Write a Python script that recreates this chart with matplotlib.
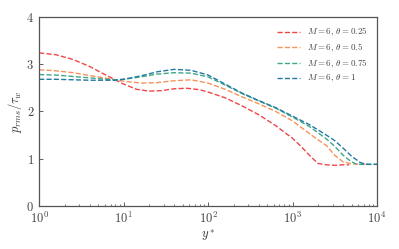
import numpy as np
import matplotlib
matplotlib.use('Agg')
import matplotlib.pyplot as plt

plt.rcParams['font.family'] = 'serif'
plt.rcParams['font.serif'] = ['cmr10']
plt.rcParams['mathtext.fontset'] = 'cm'
plt.rcParams['axes.formatter.use_mathtext'] = True

# log10(y*) sample positions and p_rms/tau_w values
logy_025 = [0.0, 0.2, 0.4, 0.6, 0.8, 0.9, 1.0, 1.15, 1.3, 1.45, 1.6, 1.75, 1.9, 2.0, 2.2, 2.4, 2.6, 2.8, 3.0, 3.1, 3.2, 3.3, 3.4, 3.5, 3.6, 3.67]
prms_025 = [3.24, 3.2, 3.1, 2.95, 2.76, 2.67, 2.58, 2.47, 2.43, 2.44, 2.48, 2.49, 2.46, 2.41, 2.29, 2.12, 1.93, 1.7, 1.43, 1.26, 1.07, 0.9, 0.87, 0.86, 0.87, 0.87]

logy_05 = [0.0, 0.2, 0.4, 0.6, 0.8, 0.9, 1.0, 1.2, 1.4, 1.6, 1.8, 2.0, 2.2, 2.4, 2.6, 2.8, 3.0, 3.2, 3.3, 3.4, 3.5, 3.6, 3.7, 3.8, 3.9]
prms_05 = [2.88, 2.86, 2.82, 2.76, 2.7, 2.67, 2.64, 2.6, 2.61, 2.65, 2.67, 2.6, 2.47, 2.31, 2.16, 2.0, 1.8, 1.53, 1.4, 1.28, 1.07, 0.93, 0.89, 0.88, 0.88]

logy_075 = [0.0, 0.2, 0.4, 0.6, 0.8, 0.9, 1.0, 1.2, 1.4, 1.6, 1.8, 2.0, 2.2, 2.4, 2.6, 2.8, 3.0, 3.2, 3.4, 3.5, 3.6, 3.7, 3.75, 3.8, 3.9, 4.0]
prms_075 = [2.78, 2.77, 2.74, 2.71, 2.68, 2.67, 2.68, 2.73, 2.79, 2.82, 2.81, 2.73, 2.56, 2.38, 2.22, 2.07, 1.88, 1.68, 1.42, 1.26, 1.07, 0.93, 0.89, 0.88, 0.88, 0.88]

logy_1 = [0.0, 0.2, 0.4, 0.6, 0.8, 0.9, 1.0, 1.2, 1.4, 1.6, 1.8, 2.0, 2.2, 2.4, 2.6, 2.8, 3.0, 3.2, 3.4, 3.5, 3.6, 3.7, 3.8, 3.85, 3.9, 4.0]
prms_1 = [2.68, 2.68, 2.67, 2.66, 2.66, 2.66, 2.68, 2.75, 2.84, 2.89, 2.87, 2.77, 2.58, 2.39, 2.23, 2.08, 1.9, 1.72, 1.5, 1.38, 1.22, 1.05, 0.92, 0.89, 0.88, 0.88]

labels = [r'$M=6,\,\theta=0.25$', r'$M=6,\,\theta=0.5$',
          r'$M=6,\,\theta=0.75$', r'$M=6,\,\theta=1$']
colors = ['#ef4747', '#f7925a', '#3fa88a', '#237aa2']

fig = plt.figure(figsize=(3.99, 2.49), dpi=100)
ax = fig.add_axes([0.098, 0.173, 0.847, 0.759])

series = [(logy_025, prms_025), (logy_05, prms_05), (logy_075, prms_075), (logy_1, prms_1)]
for (lx, v), lab, c in zip(series, labels, colors):
    ax.plot(10 ** np.array(lx), v, ls='--', lw=1.0, color=c, label=lab)

ax.set_xscale('log')
ax.set_xlim(1, 1e4)
ax.set_ylim(0, 4)
ax.set_yticks([0, 1, 2, 3, 4])
ax.set_xlabel(r'$y^*$', fontsize=9, labelpad=1, color='#333333')
ax.set_ylabel(r'$p_{rms}/\tau_w$', fontsize=9, labelpad=2, color='#333333')
ax.tick_params(direction='in', labelsize=9, colors='#444444', length=3, width=0.6)
ax.tick_params(which='minor', direction='in', length=1.5, width=0.5, colors='#444444')
for s in ax.spines.values():
    s.set_color('#555555')
    s.set_linewidth(0.9)

leg = ax.legend(loc='upper right', frameon=False, fontsize=6.5, handlelength=2.5,
                labelspacing=0.35, borderaxespad=0.6)
for t in leg.get_texts():
    t.set_color('#444444')

fig.savefig('out.png', dpi=100)
